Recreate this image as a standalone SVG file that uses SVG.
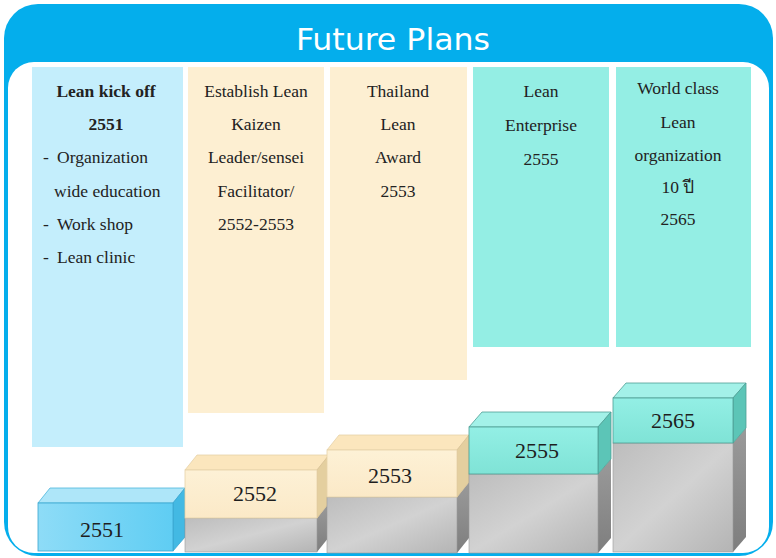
<svg xmlns="http://www.w3.org/2000/svg" width="776" height="558" viewBox="0 0 776 558">
<defs>
<style>
.t{font-size:17.5px;fill:#222;text-anchor:middle}
.b{font-weight:bold}
.l{text-anchor:start}
.n{font-size:22px;fill:#1e1e1e;text-anchor:middle}
.gf{fill:url(#gray)}
.gs{fill:url(#graySide)}
.gt{stroke:#9a9a9a;stroke-width:0.6}
</style>
<linearGradient id="gray" x1="0" y1="0" x2="1" y2="1">
<stop offset="0" stop-color="#bdbdbd"/><stop offset="0.5" stop-color="#d2d2d2"/><stop offset="1" stop-color="#b4b4b4"/>
</linearGradient>
<linearGradient id="graySide" x1="0" y1="0" x2="0" y2="1">
<stop offset="0" stop-color="#9a9a9a"/><stop offset="1" stop-color="#7e7e7e"/>
</linearGradient>
<linearGradient id="blueF" x1="0" y1="0" x2="1" y2="0">
<stop offset="0" stop-color="#8edcf7"/><stop offset="1" stop-color="#5fcdf3"/>
</linearGradient>
<linearGradient id="peachF" x1="0" y1="0" x2="0" y2="1">
<stop offset="0" stop-color="#fdf1d6"/><stop offset="1" stop-color="#fbe9c7"/>
</linearGradient>
<linearGradient id="tealF" x1="0" y1="0" x2="0" y2="1">
<stop offset="0" stop-color="#93efe5"/><stop offset="1" stop-color="#7fe3d6"/>
</linearGradient>
</defs>

<g id="frame">
<rect x="4" y="4" width="769" height="552" rx="34" fill="#04aeec"/>
<rect x="8" y="62" width="761" height="491" rx="26" fill="#ffffff"/>
<text x="393" y="50" text-anchor="middle" fill="#ffffff" font-family="DejaVu Sans, sans-serif" font-stretch="condensed" font-size="31" textLength="194" lengthAdjust="spacingAndGlyphs">Future Plans</text>
</g>

<g font-family="Liberation Serif, serif">
<g id="col1">
<rect x="32" y="67" width="151" height="380" fill="#c4eefc"/>
<text class="t b" x="106" y="97" font-size="18">Lean kick off</text>
<text class="t b" x="106" y="130" font-size="18">2551</text>
<text class="t l" x="43" y="163">- <tspan x="57">Organization</tspan></text>
<text class="t l" x="54" y="197">wide education</text>
<text class="t l" x="43" y="230">- <tspan x="57">Work shop</tspan></text>
<text class="t l" x="43" y="263">- <tspan x="57">Lean clinic</tspan></text>
</g>

<g id="col2">
<rect x="188" y="67" width="136" height="346" fill="#fdefd2"/>
<text class="t" x="256" y="97">Establish Lean</text>
<text class="t" x="256" y="130">Kaizen</text>
<text class="t" x="256" y="163">Leader/sensei</text>
<text class="t" x="256" y="197">Facilitator/</text>
<text class="t" x="256" y="230">2552-2553</text>
</g>

<g id="col3">
<rect x="330" y="67" width="137" height="313" fill="#fdefd2"/>
<text class="t" x="398" y="97">Thailand</text>
<text class="t" x="398" y="130">Lean</text>
<text class="t" x="398" y="163">Award</text>
<text class="t" x="398" y="197">2553</text>
</g>

<g id="col4">
<rect x="473" y="67" width="136" height="280" fill="#94eee4"/>
<text class="t" x="541" y="97">Lean</text>
<text class="t" x="541" y="131">Enterprise</text>
<text class="t" x="541" y="165">2555</text>
</g>

<g id="col5">
<rect x="616" y="67" width="135" height="280" fill="#94eee4"/>
<text class="t" x="678" y="94">World class</text>
<text class="t" x="678" y="128">Lean</text>
<text class="t" x="678" y="161">organization</text>
<text class="t" x="678" y="193">10 ปี</text>
<text class="t" x="678" y="225">2565</text>
</g>

<g id="block2551">
<polygon points="38,503 50,488 185,488 173,503" fill="#aee6f9" stroke="#4cb6dc" stroke-width="0.8"/>
<polygon points="173,503 185,488 185,537 173,551" fill="#43b9e3" stroke="#3aa6d0" stroke-width="0.8"/>
<rect x="38" y="503" width="135" height="48" fill="url(#blueF)" stroke="#3aa6d0" stroke-width="0.8"/>
<text class="n" x="102" y="537">2551</text>
</g>

<g id="block2552">
<polygon points="317,518 329,503 329,537 317,552" class="gs"/>
<rect x="185" y="518" width="132" height="34" class="gf gt"/>
<polygon points="185,470 197,455 329,455 317,470" fill="#fbe6bd" stroke="#e6d2a8" stroke-width="0.8"/>
<polygon points="317,470 329,455 329,503 317,518" fill="#e4cf9f" stroke="#d8c293" stroke-width="0.8"/>
<rect x="185" y="470" width="132" height="48" fill="url(#peachF)" stroke="#e6d2a8" stroke-width="0.8"/>
<text class="n" x="255" y="501">2552</text>
</g>

<g id="block2553">
<polygon points="457,497 469,482 469,538 457,553" class="gs"/>
<rect x="327" y="497" width="130" height="56" class="gf gt"/>
<polygon points="327,450 339,435 469,435 457,450" fill="#fbe6bd" stroke="#e6d2a8" stroke-width="0.8"/>
<polygon points="457,450 469,435 469,482 457,497" fill="#e4cf9f" stroke="#d8c293" stroke-width="0.8"/>
<rect x="327" y="450" width="130" height="47" fill="url(#peachF)" stroke="#e6d2a8" stroke-width="0.8"/>
<text class="n" x="390" y="483">2553</text>
</g>

<g id="block2555">
<polygon points="598,474 611,459 611,538 598,553" class="gs"/>
<rect x="469" y="474" width="129" height="79" class="gf gt"/>
<polygon points="469,427 482,412 611,412 598,427" fill="#a3f1e8" stroke="#4f9f95" stroke-width="0.8"/>
<polygon points="598,427 611,412 611,459 598,474" fill="#5cc5b7" stroke="#4f9f95" stroke-width="0.8"/>
<rect x="469" y="427" width="129" height="47" fill="url(#tealF)" stroke="#4f9f95" stroke-width="0.8"/>
<text class="n" x="537" y="458">2555</text>
</g>

<g id="block2565">
<polygon points="733,443 746,428 746,537 733,552" class="gs"/>
<rect x="613" y="443" width="120" height="109" class="gf gt"/>
<polygon points="613,398 626,383 746,383 733,398" fill="#a3f1e8" stroke="#4f9f95" stroke-width="0.8"/>
<polygon points="733,398 746,383 746,428 733,443" fill="#5cc5b7" stroke="#4f9f95" stroke-width="0.8"/>
<rect x="613" y="398" width="120" height="45" fill="url(#tealF)" stroke="#4f9f95" stroke-width="0.8"/>
<text class="n" x="673" y="428">2565</text>
</g>
</g>

<g id="connectors"/>
</svg>
